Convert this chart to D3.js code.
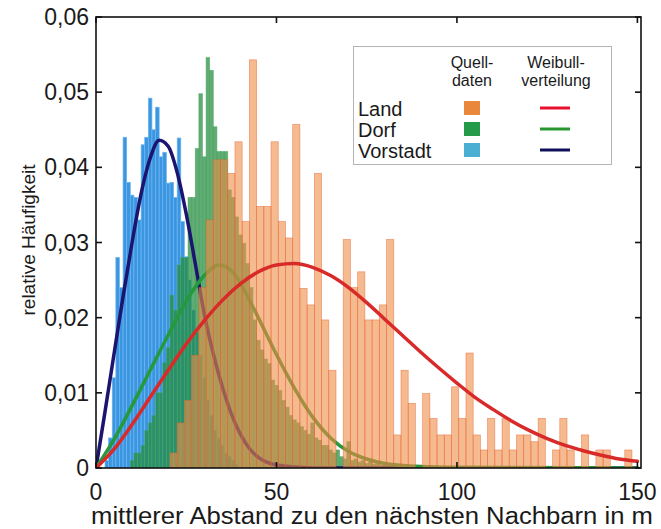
<!DOCTYPE html>
<html><head><meta charset="utf-8">
<script src="https://cdn.jsdelivr.net/npm/d3@7/dist/d3.min.js"></script>
<style>
body{margin:0;background:#fff}
text{font-family:"Liberation Sans",Arial,Helvetica,sans-serif;fill:#1a1a1a}
</style>
</head><body>
<svg id="chart" width="661" height="529"></svg>
<script>
// ---------- data ----------
// Vorstadt histogram: 1 m bins, centres from vorstadtStart
const vorstadtStart = 3;
const vorstadtValues = [0.001,0.004,0.012,0.028,0.024,0.044,0.038,0.0363,0.036,0.033,0.043,0.044,0.0492,0.045,0.048,0.0414,0.042,0.0379,0.038,0.036,0.0439,0.0328,0.0281,0.025,0.021,0.018,0.015,0.012,0.009,0.007,0.005,0.004,0.003,0.002,0.0015,0.001,0.0005];
// Dorf histogram: 1 m bins, centres from dorfStart
const dorfStart = 10;
const dorfValues = [0.001,0.002,0.002,0.003,0.005,0.006,0.007,0.010,0.010,0.014,0.016,0.023,0.021,0.027,0.028,0.028,0.036,0.036,0.0425,0.0498,0.0414,0.0546,0.0529,0.0454,0.0421,0.0421,0.0421,0.037,0.036,0.0334,0.031,0.0299,0.0272,0.024,0.0197,0.017,0.0157,0.0145,0.0139,0.0117,0.011,0.0103,0.009,0.0081,0.007,0.0064,0.006,0.0055,0.005,0.0045,0.006,0.004,0.0037,0.003,0.003,0.0024,0.002,0.0024,0.0015,0.0012,0.0035,0.001,0.0012,0.0008,0.001,0.0006,0.0008,0.0005,0.0006,0.0004,0.0005,0.0003,0.0004,0.0003,0.0002,0.0003,0.0002,0.0002,0.0001,0.0002,0.0001];
// Land histogram: 2 m bins, centres from landStart
const landStart = 21.5;
const landValues = [0.002,0.006,0.009,0.015,0.024,0.033,0.041,0.041,0.0392,0.0434,0.0328,0.0543,0.0348,0.0348,0.0434,0.0328,0.0306,0.0457,0.0239,0.0217,0.0392,0.0197,0.0130,0,0.0304,0.0240,0.0261,0.0197,0.0197,0.0217,0.0304,0.0044,0.0130,0.0086,0,0.0099,0.0066,0.0044,0.0044,0.0108,0.0066,0.0153,0.0044,0.0024,0.0066,0.0024,0.0066,0.0024,0.0044,0.0044,0.0035,0.0066,0,0.0024,0.0066,0.0024,0,0.0044,0,0.0024,0.0024,0,0,0.0024];

// Weibull curves
const vorstadtCurveX = [0,2.5,5,7.5,10,12.5,15,17.5,20,22.5,25,27.5,30,32.5,35,37.5,40,42.5,45,50,60,150];
const vorstadtCurveY = [0,0.0075,0.0152,0.0228,0.030,0.0365,0.0412,0.0436,0.0428,0.0393,0.0338,0.0272,0.0205,0.0152,0.0108,0.0072,0.0045,0.0026,0.0014,0.0004,0,0];
const dorfCurveX = [0,5,10,15,20,25,30,34,38,42,46,50,55,60,65,70,75,80,90,100,150];
const dorfCurveY = [0,0.0038,0.0083,0.013,0.0177,0.0222,0.0256,0.027,0.026,0.0228,0.019,0.0151,0.0106,0.0068,0.004,0.0022,0.0012,0.0006,0.0002,0.0001,0];
const landCurveX = [0,5,10,15,20,25,30,35,40,45,50,55,60,65,70,75,80,85,90,95,100,105,110,115,120,125,130,135,140,145,150];
const landCurveY = [0,0.0025,0.0058,0.0094,0.013,0.0165,0.0196,0.0223,0.0245,0.0261,0.027,0.0272,0.0267,0.0256,0.024,0.022,0.0198,0.0176,0.0154,0.0133,0.0113,0.0094,0.0078,0.0063,0.005,0.0039,0.003,0.0023,0.0017,0.0012,0.0009];

const xTicks = [0,50,100,150];
const yTicks = [0,0.01,0.02,0.03,0.04,0.05,0.06];
const yTickLabels = ["0","0,01","0,02","0,03","0,04","0,05","0,06"];
const legendNames = ["Land","Dorf","Vorstadt"];
const legendHeaders = [["Quell-","daten"],["Weibull-","verteilung"]];

// ---------- drawing ----------
const svg = d3.select("#chart");
const L=96, R=641, T=17, B=468;
const x = d3.scaleLinear().domain([0,151]).range([L,R]);
const y = d3.scaleLinear().domain([0,0.06]).range([B,T]);

const plot = svg.append("g");
svg.append("clipPath").attr("id","clp").append("rect")
  .attr("x",L).attr("y",T).attr("width",R-L).attr("height",B-T);
plot.attr("clip-path","url(#clp)");

function bars(values,start,width,fill,stroke,opacity){
  const data = values.map((v,i)=>({c:start+i*width,v}));
  plot.append("g").selectAll("rect").data(data.filter(d=>d.v>0)).join("rect")
    .attr("x",d=>x(d.c-width/2)).attr("width",d=>x(d.c+width/2)-x(d.c-width/2))
    .attr("y",d=>y(d.v)).attr("height",d=>y(0)-y(d.v))
    .attr("fill",fill).attr("fill-opacity",opacity)
    .attr("stroke",stroke).attr("stroke-opacity",opacity).attr("stroke-width",0.7);
}
function curve(xs,ys,color,w){
  const line = d3.line().x(d=>x(d[0])).y(d=>y(d[1])).curve(d3.curveMonotoneX);
  plot.append("path").datum(xs.map((v,i)=>[v,ys[i]]))
    .attr("d",line).attr("fill","none").attr("stroke",color)
    .attr("stroke-width",w).attr("stroke-linejoin","round").attr("stroke-linecap","round");
}

bars(vorstadtValues,vorstadtStart,1,"#3b96e2","#6db5ef",1);
bars(dorfValues,dorfStart,1,"#238c3e","#4aa860",0.72);
curve(vorstadtCurveX,vorstadtCurveY,"#1b1570",3.5);
curve(dorfCurveX,dorfCurveY,"#249a3c",3.5);
bars(landValues,landStart,2,"#f08c46","#e8602a",0.6);
curve(landCurveX,landCurveY,"#d92a2a",3.5);

// frame
svg.append("rect").attr("x",L).attr("y",T).attr("width",R-L).attr("height",B-T)
  .attr("fill","none").attr("stroke","#111").attr("stroke-width",1.6);

// ticks (inward, mirrored)
const tk = 6;
const tg = svg.append("g").attr("stroke","#111").attr("stroke-width",1.6);
xTicks.forEach(t=>{
  tg.append("line").attr("x1",x(t)).attr("x2",x(t)).attr("y1",B).attr("y2",B-tk);
  tg.append("line").attr("x1",x(t)).attr("x2",x(t)).attr("y1",T).attr("y2",T+tk);
});
yTicks.forEach(t=>{
  tg.append("line").attr("x1",L).attr("x2",L+tk).attr("y1",y(t)).attr("y2",y(t));
  tg.append("line").attr("x1",R).attr("x2",R-tk).attr("y1",y(t)).attr("y2",y(t));
});

// tick labels
svg.append("g").selectAll("text").data(xTicks).join("text")
  .attr("x",d=>x(d)).attr("y",500).attr("text-anchor","middle")
  .attr("font-size",23).text(d=>d);
svg.append("g").selectAll("text").data(yTicks).join("text")
  .attr("x",89).attr("y",d=>y(d)+8).attr("text-anchor","end")
  .attr("font-size",23).text((d,i)=>yTickLabels[i]);

// axis titles
svg.append("text").attr("x",372).attr("y",524).attr("text-anchor","middle")
  .attr("font-size",23).attr("textLength",562).attr("lengthAdjust","spacingAndGlyphs")
  .text("mittlerer Abstand zu den nächsten Nachbarn in m");
svg.append("text").attr("transform","translate(35,240) rotate(-90)")
  .attr("text-anchor","middle").attr("font-size",19).text("relative Häufigkeit");

// legend
const lg = svg.append("g");
lg.append("rect").attr("x",353.5).attr("y",46.5).attr("width",258).attr("height",118)
  .attr("fill","#fff").attr("stroke","#b4b4b4").attr("stroke-width",1);
const hx = [472,556];
legendHeaders.forEach((h,i)=>{
  h.forEach((s,j)=>{
    lg.append("text").attr("x",hx[i]).attr("y",68+j*18).attr("text-anchor","middle")
      .attr("font-size",16).text(s);
  });
});
const swatch = ["#e9883c","#259a48","#4aafd2"];
const lineC = ["#e8112d","#27962f","#10105a"];
const rowY = [108,129,150];
legendNames.forEach((n,i)=>{
  lg.append("text").attr("x",358).attr("y",rowY[i]+7.5).attr("font-size",20).text(n);
  lg.append("rect").attr("x",464).attr("y",rowY[i]-7).attr("width",16).attr("height",14).attr("fill",swatch[i]);
  lg.append("line").attr("x1",540).attr("x2",570).attr("y1",rowY[i]).attr("y2",rowY[i])
    .attr("stroke",lineC[i]).attr("stroke-width",3);
});
</script>
</body></html>
